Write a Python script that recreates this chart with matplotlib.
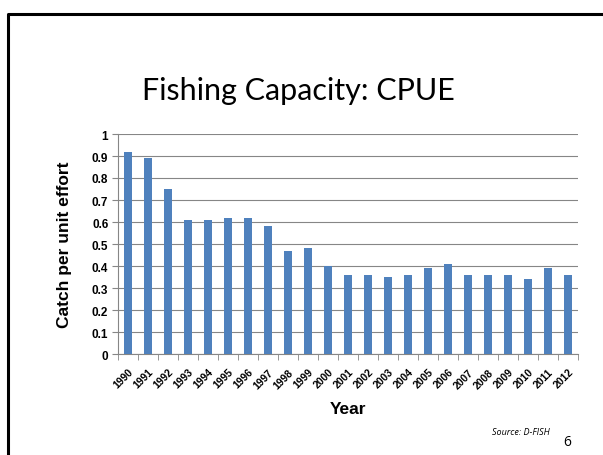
import matplotlib.pyplot as plt
from matplotlib.lines import Line2D
import numpy as np

# data
years = [str(y) for y in range(1990, 2013)]
cpue = [0.92, 0.89, 0.75, 0.61, 0.61, 0.62, 0.62, 0.58, 0.47, 0.48, 0.40, 0.36,
        0.36, 0.35, 0.36, 0.39, 0.41, 0.36, 0.36, 0.36, 0.34, 0.39, 0.36]
yticks = [0, 0.1, 0.2, 0.3, 0.4, 0.5, 0.6, 0.7, 0.8, 0.9, 1]
ytick_labels = ['0', '0.1', '0.2', '0.3', '0.4', '0.5', '0.6', '0.7', '0.8', '0.9', '1']

fig = plt.figure(figsize=(6.03, 4.56), dpi=100, facecolor='white')
ax = fig.add_axes([118 / 603, 1 - 355 / 456, 460 / 603, 220 / 456])

# slide border (left and top only)
fig.add_artist(Line2D([8 / 603, 8 / 603, 1.0], [0.0, 1 - 15 / 456, 1 - 15 / 456],
                      transform=fig.transFigure, color='black', lw=2.2))

# title
fig.text(298 / 603, 1 - 100 / 456, 'Fishing Capacity: CPUE', ha='center', va='baseline',
         fontsize=22, family='Lato')

x = np.arange(len(years))
ax.bar(x, cpue, width=0.4, color='#4F81BD', zorder=3)

ax.set_xlim(-0.5, len(years) - 0.5)
ax.set_ylim(0, 1)
ax.set_yticks(yticks)
ax.set_yticklabels(ytick_labels, fontsize=8.5, fontweight='bold', family='Liberation Sans')
ax.set_xticks(x)
ax.set_xticklabels(years, rotation=45, ha='right', rotation_mode='anchor',
                   fontsize=7.5, fontweight='bold', family='Liberation Sans')
ax.tick_params(axis='x', which='major', length=0, pad=9)
ax.set_xticks(np.arange(-0.5, len(years)), minor=True)
ax.tick_params(axis='x', which='minor', length=4, color='#868686', direction='out')
ax.tick_params(axis='y', length=4, color='#868686', pad=3)

ax.grid(axis='y', color='#868686', lw=0.8, zorder=0)
for side in ['top', 'right']:
    ax.spines[side].set_visible(False)
for side in ['left', 'bottom']:
    ax.spines[side].set_color('#868686')

ax.set_ylabel('Catch per unit effort', fontsize=12.5, fontweight='bold',
              family='Liberation Sans')
ax.yaxis.set_label_coords(-(118 - 65) / 460, 0.5)
ax.set_xlabel('Year', fontsize=12.5, fontweight='bold', family='Liberation Sans')
ax.xaxis.set_label_coords(0.5, -(410 - 355) / 220)
ax.xaxis.label.set_va('center')
ax.yaxis.label.set_va('center')

fig.text(550 / 603, 1 - 433 / 456, 'Source: D-FISH', ha='right', va='center',
         fontsize=6.5, style='italic', family='Open Sans')
fig.text(567 / 603, 1 - 443 / 456, '6', ha='center', va='center',
         fontsize=10, family='Open Sans')

fig.savefig('out.png', dpi=100)
